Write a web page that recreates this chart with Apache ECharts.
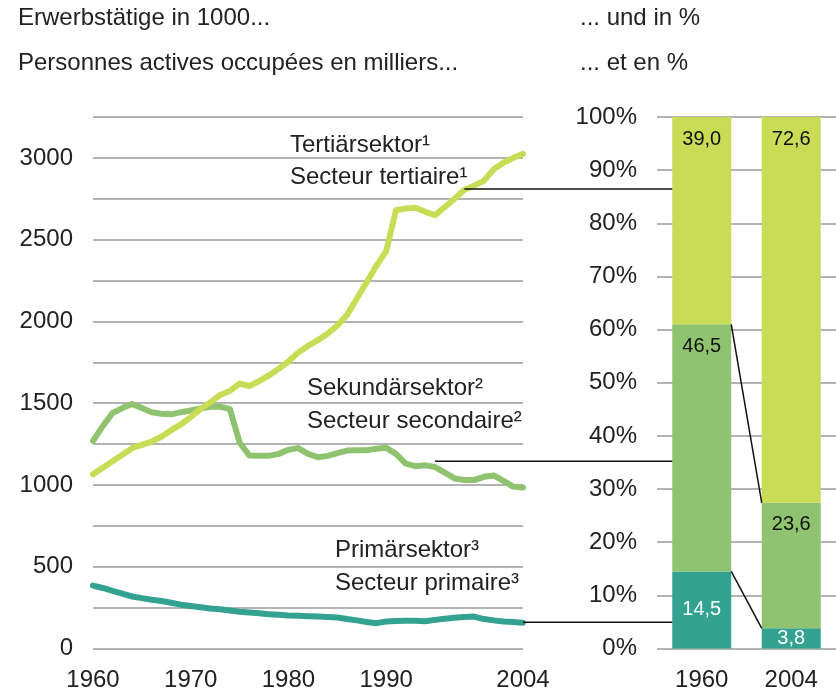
<!DOCTYPE html>
<html>
<head>
<meta charset="utf-8">
<script src="https://cdn.jsdelivr.net/npm/echarts@6/dist/echarts.min.js"></script>
<style>
  html, body { margin: 0; padding: 0; background: #fff; }
  #chart { width: 836px; height: 696px; }
</style>
</head>
<body>
<div id="chart"></div>
<script>
// Jahre 1960 - 2004
var years = [];
for (var y = 1960; y <= 2004; y++) years.push(String(y));
var yearLabels = ['1960', '1970', '1980', '1990', '2004'];

// Erwerbstätige in 1000
var tertiary = [1065, 1105, 1145, 1185, 1225, 1245, 1265, 1295, 1335, 1370,
  1415, 1465, 1505, 1550, 1575, 1620, 1605, 1635, 1670, 1710,
  1755, 1810, 1850, 1885, 1925, 1975, 2040, 2140, 2240, 2340,
  2430, 2680, 2690, 2695, 2670, 2650, 2700, 2750, 2805, 2830,
  2860, 2930, 2970, 3000, 3025];
var secondary = [1270, 1360, 1440, 1470, 1495, 1470, 1445, 1435, 1432, 1445,
  1455, 1468, 1478, 1478, 1465, 1260, 1180, 1178, 1178, 1190,
  1215, 1225, 1190, 1170, 1178, 1195, 1210, 1212, 1212, 1222,
  1228, 1190, 1130, 1115, 1120, 1110, 1075, 1040, 1030, 1030,
  1050, 1058, 1025, 990, 985];
var primary = [385, 370, 352, 335, 318, 308, 298, 290, 280, 268,
  260, 252, 245, 240, 233, 225, 220, 215, 210, 206,
  202, 200, 197, 195, 193, 190, 180, 172, 162, 155,
  165, 168, 170, 170, 167, 175, 182, 188, 192, 195,
  180, 172, 165, 162, 158];

// Anteile in %
var barYears = ['1960', '2004'];
var primaryPct = [14.5, 3.8];
var secondaryPct = [46.5, 23.6];
var tertiaryPct = [39.0, 72.6];

// Verbindungslinien Text -> Balken: [Jahr, Wert]
var leaderTertiary = ['1998', 2810];
var leaderSecondary = ['1995', 1145];
var leaderPrimary = ['2004', 160];

var colTer = '#c8dc55';
var colSec = '#8fc36f';
var colPri = '#33a291';
var font = '"Liberation Sans", Arial, sans-serif';
var barWidth = 59;

var chart = echarts.init(document.getElementById('chart'));

function pctLabel(color, pos, dist) {
  return {
    show: true,
    position: pos,
    distance: dist,
    color: color,
    fontSize: 20,
    fontFamily: font,
    formatter: function (p) { return p.value.toFixed(1).replace('.', ','); }
  };
}

var sumTop = [primaryPct[0] + secondaryPct[0], primaryPct[1] + secondaryPct[1]];

var option = {
  animation: false,
  textStyle: { fontFamily: font },
  grid: [
    { left: 93, right: 313, top: 117, bottom: 47.5 },
    { left: 657, right: 0, top: 117, bottom: 47.5 }
  ],
  xAxis: [
    {
      type: 'category', gridIndex: 0, data: years, boundaryGap: false,
      axisLine: { show: false }, axisTick: { show: false },
      axisLabel: {
        color: '#222', fontSize: 24, margin: 20,
        interval: function (i, v) { return yearLabels.indexOf(v) >= 0; }
      }
    },
    {
      type: 'category', gridIndex: 1, data: barYears,
      axisLine: { show: false }, axisTick: { show: false },
      axisLabel: { color: '#222', fontSize: 24, margin: 20 }
    }
  ],
  yAxis: [
    {
      type: 'value', gridIndex: 0, min: 0, max: 3250, interval: 250,
      axisLine: { show: false }, axisTick: { show: false },
      splitLine: { lineStyle: { color: '#9a9a9a', width: 1.5 } },
      axisLabel: {
        color: '#222', fontSize: 24, margin: 20,
        formatter: function (v) { return v % 500 === 0 ? String(v) : ''; }
      }
    },
    {
      type: 'value', gridIndex: 1, min: 0, max: 100, interval: 10,
      axisLine: { show: false }, axisTick: { show: false },
      splitLine: { lineStyle: { color: '#9a9a9a', width: 1.5 } },
      axisLabel: { color: '#222', fontSize: 24, margin: 20, formatter: '{value}%' }
    }
  ],
  series: [
    {
      name: 'Sekundär', type: 'line', data: secondary, symbol: 'none',
      lineStyle: { color: colSec, width: 6, cap: 'round', join: 'round' }
    },
    {
      name: 'Tertiär', type: 'line', data: tertiary, symbol: 'none',
      lineStyle: { color: colTer, width: 6, cap: 'round', join: 'round' }
    },
    {
      name: 'Primär', type: 'line', data: primary, symbol: 'none',
      lineStyle: { color: colPri, width: 6, cap: 'round', join: 'round' }
    },
    {
      type: 'bar', xAxisIndex: 1, yAxisIndex: 1, stack: 'pct', barWidth: barWidth,
      data: primaryPct, itemStyle: { color: colPri },
      label: pctLabel('#fff', 'inside', 0)
    },
    {
      type: 'bar', xAxisIndex: 1, yAxisIndex: 1, stack: 'pct', barWidth: barWidth,
      data: secondaryPct, itemStyle: { color: colSec },
      label: pctLabel('#111', 'insideTop', 12)
    },
    {
      type: 'bar', xAxisIndex: 1, yAxisIndex: 1, stack: 'pct', barWidth: barWidth,
      data: tertiaryPct, itemStyle: { color: colTer },
      label: pctLabel('#111', 'insideTop', 12)
    },
    {
      // Verbindung zwischen den Balken
      type: 'custom', xAxisIndex: 1, yAxisIndex: 1, z: 5,
      data: [[0, sumTop[0], 1, sumTop[1]], [0, primaryPct[0], 1, primaryPct[1]]],
      encode: { x: 0, y: 1 },
      renderItem: function (params, api) {
        var a = api.coord([api.value(0), api.value(1)]);
        var b = api.coord([api.value(2), api.value(3)]);
        return {
          type: 'line',
          shape: { x1: a[0] + barWidth / 2, y1: a[1], x2: b[0] - barWidth / 2, y2: b[1] },
          style: { stroke: '#111', lineWidth: 1.5 }
        };
      }
    }
  ]
};
chart.setOption(option);

/** Texte und Hinweislinien */
function txt(x, y, text) {
  return {
    type: 'text', x: x, y: y,
    style: { text: text, fill: '#222', fontSize: 24, fontFamily: font, verticalAlign: 'middle' }
  };
}
function leader(pt) {
  var p = chart.convertToPixel({ gridIndex: 0 }, pt);
  var q = chart.convertToPixel({ gridIndex: 1 }, ['1960', 0]);
  return {
    type: 'line', z: 10,
    shape: { x1: p[0], y1: p[1], x2: q[0] - barWidth / 2, y2: p[1] },
    style: { stroke: '#111', lineWidth: 1.5 }
  };
}

chart.setOption({
  graphic: [
    txt(18, 18, 'Erwerbstätige in 1000...'),
    txt(18, 63, 'Personnes actives occupées en milliers...'),
    txt(580, 18, '... und in %'),
    txt(580, 63, '... et en %'),
    txt(290, 145, 'Tertiärsektor¹'),
    txt(290, 177, 'Secteur tertiaire¹'),
    txt(307, 388, 'Sekundärsektor²'),
    txt(307, 421, 'Secteur secondaire²'),
    txt(335, 550, 'Primärsektor³'),
    txt(335, 583, 'Secteur primaire³'),
    leader(leaderTertiary),
    leader(leaderSecondary),
    leader(leaderPrimary)
  ]
});
</script>
</body>
</html>
